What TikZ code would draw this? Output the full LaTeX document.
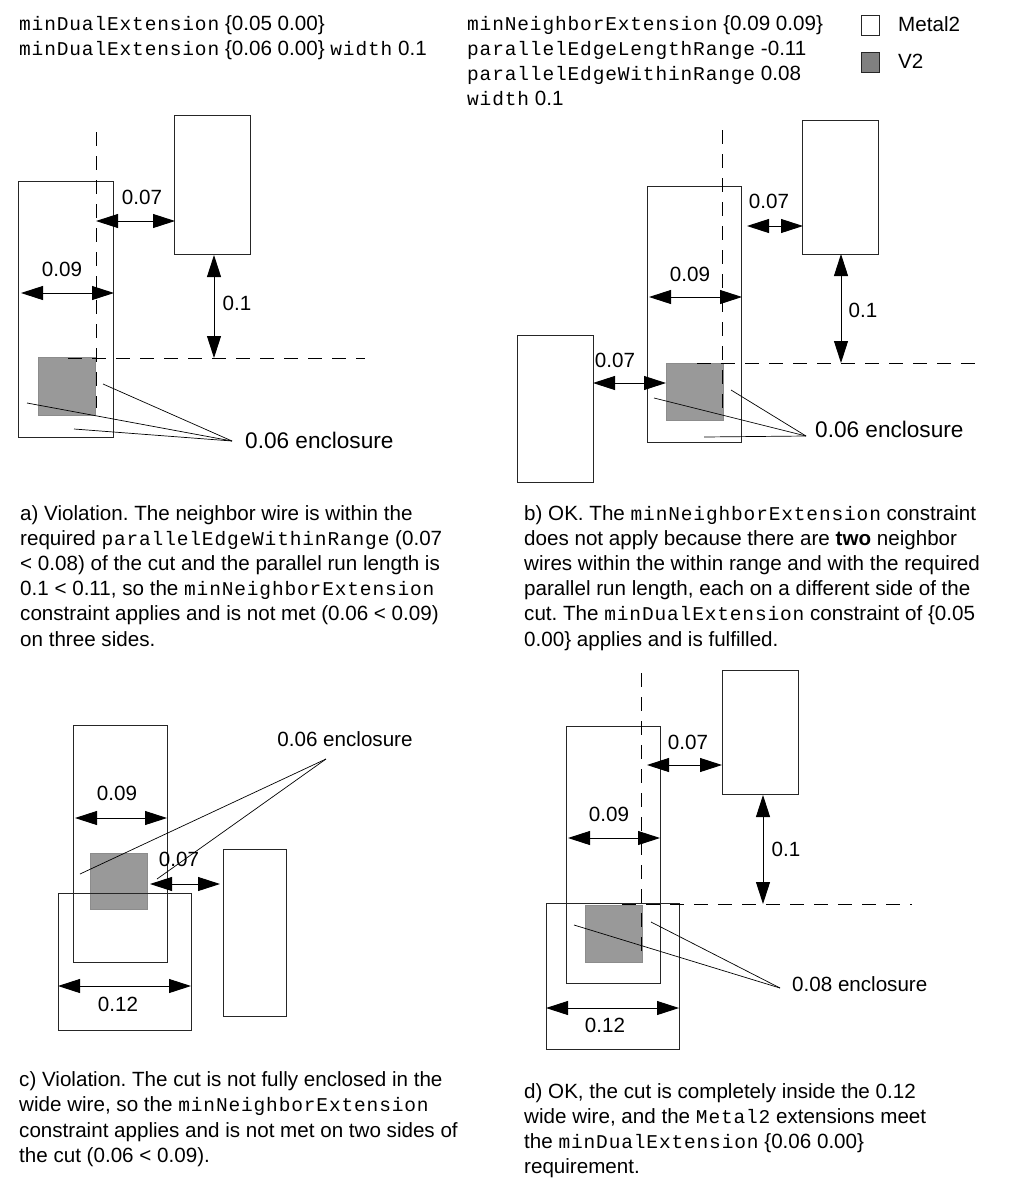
\documentclass[tikz,border=0pt]{standalone}
\usepackage{fontspec}
\setmainfont{Liberation Sans}
\newfontfamily\cour[LetterSpace=4.4]{Liberation Mono}
\usetikzlibrary{arrows.meta}
\newcommand{\cd}[1]{{\cour\fontsize{19.5}{25}\selectfont #1}}
\newcommand{\rectnode}[6]{%
  \pgfmathsetmacro{\rw}{#4-#2}\pgfmathsetmacro{\rh}{#5-#3}%
  \pgfmathsetmacro{\rx}{(#2+#4)/2}\pgfmathsetmacro{\ry}{(#3+#5)/2}%
  \node[#6,minimum width=\rw pt,minimum height=\rh pt] (#1) at (\rx,\ry) {};}
\newcommand{\dimline}[5]{%
  \coordinate (#1a) at (#2,#3);\coordinate (#1b) at (#4,#5);
  \draw[dimarrow] (#1a) -- (#1b);}
\tikzset{
  wire/.style={draw=black!85,line width=0.9pt,inner sep=0pt,outer sep=0pt},
  viabox/.style={draw=black!45,fill=black!40,line width=0.6pt,inner sep=0pt,outer sep=0pt},
  dimarrow/.style={line width=0.9pt,{Triangle[length=22pt,width=14pt]}-{Triangle[length=22pt,width=14pt]}},
  guide/.style={line width=0.9pt,dash pattern=on 14pt off 10pt},
  lead/.style={line width=0.7pt},
  lab/.style={inner sep=0pt,font=\fontsize{20.6}{25}\selectfont},
  bigl/.style={inner sep=0pt,font=\fontsize{22.6}{25}\selectfont},
  para/.style={inner sep=0pt,anchor=north west,align=left,font=\frenchspacing\fontsize{20.6}{25.2}\selectfont},
}
\begin{document}
\begin{tikzpicture}[x=1pt,y=-1pt]
\useasboundingbox (0,0) rectangle (1013,1192);
% header
\node[para] (ha) at (19,15) {\cd{minDualExtension} \{0.05 0.00\}\\ \cd{minDualExtension} \{0.06 0.00\} \cd{width} 0.1};
\node[para] (hb) at (467,15) {\cd{minNeighborExtension} \{0.09 0.09\}\\ \cd{parallelEdgeLengthRange} -0.11\\ \cd{parallelEdgeWithinRange} 0.08\\ \cd{width} 0.1};
\rectnode{lega}{861}{15}{879}{35}{wire}
\rectnode{legb}{861}{52}{879}{72}{draw=black!85,fill=black!50,line width=0.9pt,inner sep=0pt}
\node[lab,anchor=west] (lm) at (898,24) {Metal2};
\node[lab,anchor=west] (lv) at (898,61) {V2};
% panel a
\rectnode{va}{38.5}{357.5}{95}{415}{viabox}
\rectnode{ma}{18.5}{181}{113}{437}{wire}
\rectnode{na}{174.5}{115}{250.5}{254.5}{wire}
\coordinate (ga1) at (96,132);\coordinate (ga2) at (96,408);
\coordinate (ga3) at (68,358);\coordinate (ga4) at (365,358);
\draw[guide] (ga1) -- (ga2);\draw[guide] (ga3) -- (ga4);
\dimline{da1}{96}{221}{175}{221}
\dimline{da2}{21}{293}{114}{293}
\dimline{da3}{214}{255}{214}{358}
\node[lab] (la1) at (142,197) {0.07};
\node[lab] (la2) at (62,269) {0.09};
\node[lab] (la3) at (237,303) {0.1};
\node[bigl,anchor=west] (la4) at (245,440) {0.06 enclosure};
\coordinate (aa) at (232,441);\coordinate (a1) at (103,384);\coordinate (a2) at (27,403);\coordinate (a3) at (74,429);
\draw[lead] (a1) -- (aa);\draw[lead] (a2) -- (aa);\draw[lead] (a3) -- (aa);
\node[para] (ta) at (20,505) {a) Violation. The neighbor wire is within the\\ required \cd{parallelEdgeWithinRange} (0.07\\ \textless{} 0.08) of the cut and the parallel run length is\\ 0.1 \textless{} 0.11, so the \cd{minNeighborExtension}\\ constraint applies and is not met (0.06 \textless{} 0.09)\\ on three sides.};
% panel b
\rectnode{vb}{666}{363}{723}{420}{viabox}
\rectnode{mb}{647}{186}{741}{442}{wire}
\rectnode{nb}{802}{120}{878}{254}{wire}
\rectnode{ob}{517}{335}{593}{482}{wire}
\coordinate (gb1) at (722,130);\coordinate (gb2) at (722,415);
\coordinate (gb3) at (697,363);\coordinate (gb4) at (975,363);
\draw[guide] (gb1) -- (gb2);\draw[guide] (gb3) -- (gb4);
\dimline{db1}{747}{226}{803}{226}
\dimline{db2}{649}{297}{742}{297}
\dimline{db3}{841}{254}{841}{363}
\dimline{db4}{593}{383}{666}{383}
\node[lab] (lb1) at (769,201) {0.07};
\node[lab] (lb2) at (690,274) {0.09};
\node[lab] (lb3) at (863,310) {0.1};
\node[lab] (lb4) at (615,360) {0.07};
\node[bigl,anchor=west] (lb5) at (815,429) {0.06 enclosure};
\coordinate (ab) at (806,436);\coordinate (b1) at (731,390);\coordinate (b2) at (654,398);\coordinate (b3) at (704,437);
\draw[lead] (b1) -- (ab);\draw[lead] (b2) -- (ab);\draw[lead] (b3) -- (ab);
\node[para] (tb) at (524,505) {b) OK. The \cd{minNeighborExtension} constraint\\ does not apply because there are \textbf{two} neighbor\\ wires within the within range and with the required\\ parallel run length, each on a different side of the\\ cut. The \cd{minDualExtension} constraint of \{0.05\\ 0.00\} applies and is fulfilled.};
% panel c
\rectnode{vc}{90.7}{853}{147.5}{909}{viabox}
\rectnode{mc}{73}{725}{167}{962}{wire}
\rectnode{wc}{58}{893}{191}{1030}{wire}
\rectnode{nc}{223.7}{849}{286.7}{1016}{wire}
\dimline{dc1}{75}{818}{167}{818}
\dimline{dc2}{150}{884}{220}{884}
\dimline{dc3}{58}{986}{191}{986}
\node[lab] (lc1) at (117,793) {0.09};
\node[lab] (lc2) at (179,859) {0.07};
\node[lab] (lc3) at (118,1004) {0.12};
\node[lab] (lc4) at (345,739) {0.06 enclosure};
\coordinate (ac) at (326,759);\coordinate (c1) at (80,874);\coordinate (c2) at (157,879);
\draw[lead] (c1) -- (ac);\draw[lead] (c2) -- (ac);
\node[para] (tc) at (19,1071.5) {c) Violation. The cut is not fully enclosed in the\\ wide wire, so the \cd{minNeighborExtension}\\ constraint applies and is not met on two sides of\\ the cut (0.06 \textless{} 0.09).};
% panel d
\rectnode{vd}{585}{905}{642}{962}{viabox}
\rectnode{md}{566}{726}{660}{983}{wire}
\rectnode{wd}{546}{903}{679}{1049}{wire}
\rectnode{nd}{722}{670}{798}{794}{wire}
\coordinate (gd1) at (641,673);\coordinate (gd2) at (641,958);
\coordinate (gd3) at (622,904);\coordinate (gd4) at (912,904);
\draw[guide] (gd1) -- (gd2);\draw[guide] (gd3) -- (gd4);
\dimline{dd1}{647}{765}{722}{765}
\dimline{dd2}{568}{838}{660}{838}
\dimline{dd3}{763}{795}{763}{904}
\dimline{dd4}{546}{1008}{679}{1008}
\node[lab] (ld1) at (688,742) {0.07};
\node[lab] (ld2) at (609,814) {0.09};
\node[lab] (ld3) at (786,849) {0.1};
\node[lab] (ld4) at (605,1025) {0.12};
\node[lab,anchor=west] (ld5) at (792,984) {0.08 enclosure};
\coordinate (ad) at (780,988);\coordinate (d1) at (651,922);\coordinate (d2) at (574,925);
\draw[lead] (d1) -- (ad);\draw[lead] (d2) -- (ad);
\node[para] (td) at (524,1083) {d) OK, the cut is completely inside the 0.12\\ wide wire, and the \cd{Metal2} extensions meet\\ the \cd{minDualExtension} \{0.06 0.00\}\\ requirement.};
\end{tikzpicture}
\end{document}
